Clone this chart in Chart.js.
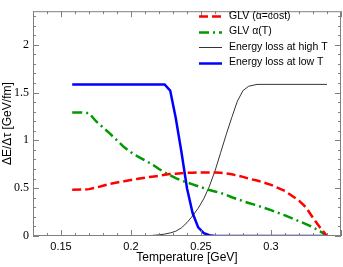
<!DOCTYPE html>
<html>
<head>
<meta charset="utf-8">
<script src="https://cdn.jsdelivr.net/npm/chart.js@4"></script>
<style>
  html, body { margin: 0; padding: 0; background: #fff; }
  #wrap { width: 343px; height: 267px; }
</style>
</head>
<body>
<div id="wrap"><canvas id="chart" width="343" height="267"></canvas></div>
<script>
// Temperature grid [GeV]
var temps = [0.158, 0.165, 0.17, 0.175, 0.18, 0.185, 0.19, 0.195, 0.2, 0.205,
             0.21, 0.215, 0.22, 0.224, 0.228, 0.232, 0.236, 0.24, 0.244, 0.248,
             0.252, 0.256, 0.26, 0.264, 0.268, 0.272, 0.276, 0.28, 0.284, 0.29,
             0.3, 0.31, 0.32, 0.325, 0.33, 0.335, 0.34];

// dE/dtau [GeV/fm]
var glvConst = [0.484, 0.485, 0.49, 0.505, 0.525, 0.545, 0.56, 0.572, 0.585, 0.598,
                0.61, 0.62, 0.63, 0.64, 0.647, 0.652, 0.656, 0.66, 0.662, 0.664,
                0.665, 0.665, 0.664, 0.66, 0.655, 0.645, 0.632, 0.618, 0.6, 0.58,
                0.535, 0.47, 0.37, 0.3, 0.19, 0.09, 0];

var glvT = [1.29, 1.29, 1.285, 1.2, 1.135, 1.07, 1.0, 0.93, 0.875, 0.83,
            0.79, 0.75, 0.7, 0.665, 0.635, 0.605, 0.58, 0.56, 0.54, 0.52,
            0.5, 0.48, 0.465, 0.45, 0.43, 0.405, 0.385, 0.365, 0.345, 0.32,
            0.27, 0.215, 0.155, 0.125, 0.09, 0.05, 0];

var highT = [0, 0, 0, 0, 0, 0, 0, 0, 0, 0.001,
             0.003, 0.006, 0.012, 0.02, 0.032, 0.05, 0.085, 0.14, 0.21, 0.29,
             0.39, 0.52, 0.68, 0.87, 1.06, 1.24, 1.41, 1.52, 1.565, 1.585,
             1.585, 1.585, 1.585, 1.585, 1.585, 1.585, 1.585];

var lowT = [1.585, 1.585, 1.585, 1.585, 1.585, 1.585, 1.585, 1.585, 1.585, 1.585,
            1.585, 1.585, 1.585, 1.585, 1.52, 1.23, 0.88, 0.5, 0.24, 0.09,
            0.03, 0.008, 0, 0, 0, 0, 0, 0, 0, 0,
            0, 0, 0, 0, 0, 0, 0];

var seriesLabels = ["GLV (\u03b1=cost)", "GLV \u03b1(T)", "Energy loss at high T", "Energy loss at low T"];
var xTicks = [0.15, 0.2, 0.25, 0.3];
var yTicks = [0, 0.5, 1, 1.5, 2];

function points(values) {
  var out = [];
  for (var i = 0; i < temps.length; i++) {
    out.push({ x: temps[i], y: values[i] });
  }
  return out;
}

// Frame with inward ticks on all four sides
var frameTicks = {
  id: "frameTicks",
  afterDatasetsDraw: function (chart) {
    var ctx = chart.ctx;
    var a = chart.chartArea;
    var xs = chart.scales.x;
    var ys = chart.scales.y;
    ctx.save();
    ctx.strokeStyle = "#808080";
    ctx.lineWidth = 1;
    ctx.beginPath();
    for (var i = 13; i <= 35; i++) {
      var px = Math.round(xs.getPixelForValue(i / 100)) + 0.5;
      var len = (i % 5 === 0) ? 6 : 3;
      ctx.moveTo(px, a.bottom);
      ctx.lineTo(px, a.bottom - len);
      ctx.moveTo(px, a.top);
      ctx.lineTo(px, a.top + len);
    }
    for (var j = 0; j <= 23; j++) {
      var py = Math.round(ys.getPixelForValue(j / 10)) + 0.5;
      var ylen = (j % 5 === 0) ? 6 : 3;
      ctx.moveTo(a.left, py);
      ctx.lineTo(a.left + ylen, py);
      ctx.moveTo(a.right, py);
      ctx.lineTo(a.right - ylen, py);
    }
    ctx.stroke();
    ctx.strokeRect(a.left + 0.5, a.top + 0.5, a.right - a.left - 1, a.bottom - a.top - 1);
    ctx.restore();
  }
};

// Legend drawn inside the plot, top right
var innerLegend = {
  id: "innerLegend",
  afterDraw: function (chart) {
    var ctx = chart.ctx;
    var sets = chart.data.datasets;
    ctx.save();
    ctx.font = "10.5px 'Liberation Sans', Arial, sans-serif";
    ctx.textBaseline = "middle";
    ctx.fillStyle = "#000";
    for (var i = 0; i < sets.length; i++) {
      var y = 16 + i * 15.5;
      var ds = sets[i];
      ctx.strokeStyle = ds.borderColor;
      ctx.lineWidth = ds.borderWidth;
      ctx.setLineDash(ds.borderDash || []);
      ctx.beginPath();
      ctx.moveTo(199, Math.round(y) + 0.5);
      ctx.lineTo(222, Math.round(y) + 0.5);
      ctx.stroke();
      ctx.setLineDash([]);
      ctx.fillText(ds.label, 229, y);
    }
    ctx.restore();
  }
};

var chart = new Chart(document.getElementById("chart"), {
  type: "line",
  data: {
    datasets: [
      { label: seriesLabels[0], data: points(glvConst), borderColor: "#ff0000",
        borderWidth: 2.5, borderDash: [9, 4] },
      { label: seriesLabels[1], data: points(glvT), borderColor: "#009900",
        borderWidth: 2.5, borderDash: [10, 4, 2, 4] },
      { label: seriesLabels[2], data: points(highT), borderColor: "#000000",
        borderWidth: 0.8 },
      { label: seriesLabels[3], data: points(lowT), borderColor: "#0000ff",
        borderWidth: 2.5 }
    ]
  },
  options: {
    responsive: false,
    animation: false,
    layout: { padding: { left: 0, right: 2, top: 1, bottom: 0 } },
    elements: {
      point: { radius: 0 },
      line: { tension: 0, borderCapStyle: "butt", fill: false }
    },
    plugins: {
      legend: { display: false },
      tooltip: { enabled: false }
    },
    scales: {
      x: {
        type: "linear",
        min: 0.13,
        max: 0.35,
        grid: { display: false, drawTicks: false },
        border: { display: false },
        afterBuildTicks: function (scale) {
          scale.ticks = xTicks.map(function (v) { return { value: v }; });
        },
        afterFit: function (scale) { scale.height = 31; },
        ticks: {
          autoSkip: false,
          maxRotation: 0,
          padding: 4,
          color: "#000",
          callback: function (v) { return String(v); },
          font: { family: "'Liberation Sans', Arial, sans-serif", size: 11 }
        },
        title: {
          display: true,
          text: "Temperature [GeV]",
          color: "#000",
          padding: { top: 0, bottom: 2 },
          font: { family: "'Liberation Sans', Arial, sans-serif", size: 12 }
        }
      },
      y: {
        min: 0,
        max: 2.35,
        grid: { display: false, drawTicks: false },
        border: { display: false },
        afterBuildTicks: function (scale) {
          scale.ticks = yTicks.map(function (v) { return { value: v }; });
        },
        afterFit: function (scale) { scale.width = 33; },
        ticks: {
          padding: 4,
          color: "#000",
          callback: function (v) { return String(v); },
          font: { family: "'Liberation Serif', 'Times New Roman', serif", size: 12 }
        },
        title: {
          display: true,
          text: "\u0394E/\u0394\u03c4 [GeV/fm]",
          color: "#000",
          padding: { top: 0, bottom: 0 },
          font: { family: "'Liberation Sans', Arial, sans-serif", size: 12 }
        }
      }
    }
  },
  plugins: [frameTicks, innerLegend]
});
</script>
</body>
</html>
